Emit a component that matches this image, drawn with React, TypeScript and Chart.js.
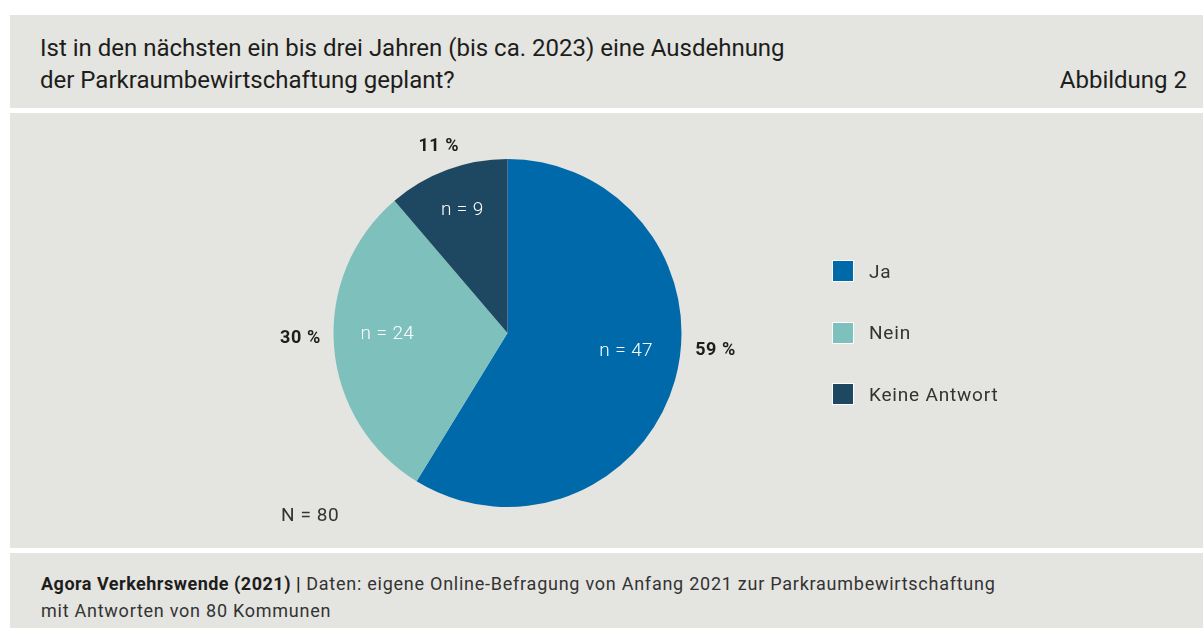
import React, { useEffect, useRef } from "react";
import { Chart, registerables } from "chart.js";

Chart.register(...registerables);

const titleLines = [
  "Ist in den nächsten ein bis drei Jahren (bis ca. 2023) eine Ausdehnung",
  "der Parkraumbewirtschaftung geplant?",
];
const figureLabel = "Abbildung 2";
const categories = ["Ja", "Nein", "Keine Antwort"];
const counts = [47, 24, 9];
const colors = ["#0069aa", "#7dc0bc", "#1e4862"];
const totalNote = "N = 80";
const sourceBold = "Agora Verkehrswende (2021) |";
const sourceRest = " Daten: eigene Online-Befragung von Anfang 2021 zur Parkraumbewirtschaftung";
const sourceLine2 = "mit Antworten von 80 Kommunen";

const FONT = "Roboto, 'Noto Sans', sans-serif";
const BG = "#e4e4e0";
const TEXT = "#1d1d1b";

// label placement tweaks per slice: angle shift (degrees) and radius factors
const innerShift = [-7, 4, 0];
const outerShift = [-11, 3, 0];
const innerRadius = [0.69, 0.69, 0.75];
const outerRadius = [1.2, 1.19, 1.14];

const labelPlugin = {
  id: "sliceLabels",
  afterDatasetsDraw(chart: any) {
    const ctx = chart.ctx;
    const meta = chart.getDatasetMeta(0);
    const data = chart.data.datasets[0].data as number[];
    const total = data.reduce((a, b) => a + b, 0);
    ctx.save();
    ctx.textBaseline = "middle";
    ctx.textAlign = "center";
    meta.data.forEach((arc: any, i: number) => {
      const { x, y, startAngle, endAngle, outerRadius: r } = arc.getProps(
        ["x", "y", "startAngle", "endAngle", "outerRadius"],
        true
      );
      const mid = (startAngle + endAngle) / 2;
      const ai = mid + (innerShift[i] * Math.PI) / 180;
      const ao = mid + (outerShift[i] * Math.PI) / 180;
      const ri = r * innerRadius[i];
      ctx.fillStyle = "#ffffff";
      ctx.font = `300 19px ${FONT}`;
      (ctx as any).letterSpacing = "0.4px";
      ctx.fillText(`n = ${data[i]}`, x + Math.cos(ai) * ri, y + Math.sin(ai) * ri);
      const ro = r * outerRadius[i];
      ctx.fillStyle = TEXT;
      ctx.font = `bold 18px ${FONT}`;
      (ctx as any).letterSpacing = "0.6px";
      const pct = Math.round((data[i] / total) * 100);
      ctx.fillText(`${pct} %`, x + Math.cos(ao) * ro, y + Math.sin(ao) * ro);
    });
    ctx.restore();
  },
};

export default function App() {
  const canvasRef = useRef<HTMLCanvasElement | null>(null);

  useEffect(() => {
    document.body.style.margin = "0";
    const canvas = canvasRef.current;
    if (!canvas) return;
    const chart = new Chart(canvas, {
      type: "pie",
      data: {
        labels: categories,
        datasets: [
          {
            data: counts,
            backgroundColor: colors,
            borderWidth: 0,
          },
        ],
      },
      options: {
        animation: false,
        responsive: false,
        maintainAspectRatio: false,
        layout: { padding: { left: 323.5, right: 521.5, top: 46, bottom: 41 } },
        plugins: {
          legend: { display: false },
          tooltip: { enabled: false },
        },
      },
      plugins: [labelPlugin],
    });
    return () => chart.destroy();
  }, []);

  return (
    <div
      style={{
        position: "fixed",
        left: 0,
        top: 0,
        width: 1203,
        height: 628,
        background: "#ffffff",
        fontFamily: FONT,
        color: TEXT,
        overflow: "hidden",
      }}
    >
      {/* header */}
      <div style={{ position: "absolute", left: 10, top: 15, width: 1193, height: 93, background: BG }}>
        <div style={{ position: "absolute", left: 30, top: 17, fontSize: 24, lineHeight: "32px", whiteSpace: "nowrap" }}>
          {titleLines.map((l) => (
            <div key={l}>{l}</div>
          ))}
        </div>
        <div style={{ position: "absolute", right: 16, top: 49, fontSize: 24, lineHeight: "32px", whiteSpace: "nowrap" }}>
          {figureLabel}
        </div>
      </div>
      {/* chart panel */}
      <div style={{ position: "absolute", left: 10, top: 113, width: 1193, height: 435, background: BG }}>
        <canvas ref={canvasRef} width={1193} height={435} style={{ position: "absolute", left: 0, top: 0 }} />
        <div style={{ position: "absolute", left: 822, top: 147 }}>
          {categories.map((c, i) => (
            <div key={c} style={{ display: "flex", alignItems: "center", height: 22, marginBottom: 39.7 }}>
              <div
                style={{
                  width: 20,
                  height: 20,
                  background: colors[i],
                  border: "1px solid #ffffff",
                  marginRight: 15,
                }}
              />
              <span style={{ fontSize: 19, letterSpacing: "0.8px", color: "#333333", whiteSpace: "nowrap" }}>{c}</span>
            </div>
          ))}
        </div>
        <div style={{ position: "absolute", left: 271, top: 390, fontSize: 19, letterSpacing: "0.6px", color: "#333333" }}>
          {totalNote}
        </div>
      </div>
      {/* footer */}
      <div style={{ position: "absolute", left: 10, top: 553, width: 1193, height: 80, background: BG }}>
        <div
          style={{
            position: "absolute",
            left: 31,
            top: 16.5,
            fontSize: 18,
            letterSpacing: "0.75px",
            lineHeight: "27px",
            whiteSpace: "nowrap",
            color: "#333333",
          }}
        >
          <div>
            <span style={{ fontWeight: "bold", color: TEXT, letterSpacing: "0.5px" }}>{sourceBold}</span>
            {sourceRest}
          </div>
          <div>{sourceLine2}</div>
        </div>
      </div>
    </div>
  );
}
